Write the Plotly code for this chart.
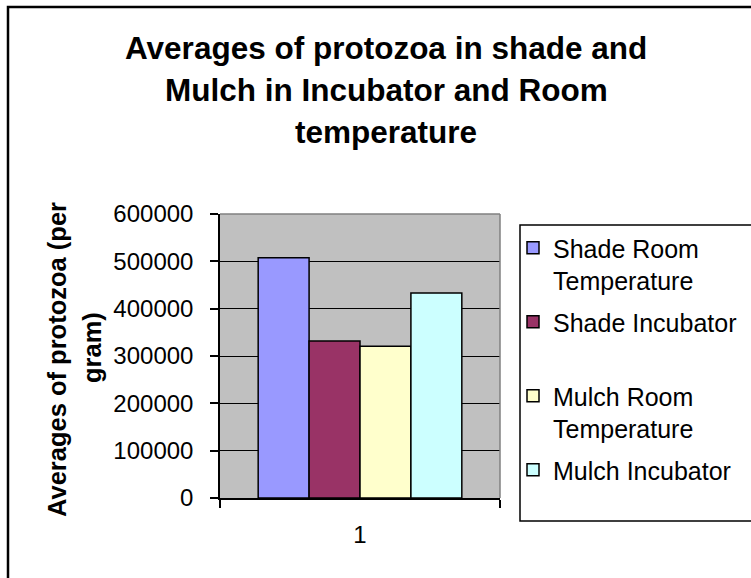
import plotly.graph_objects as go

# ---- data ----
categories = ["1"]
series_names = ["Shade Room Temperature", "Shade Incubator",
                "Mulch Room Temperature", "Mulch Incubator"]
legend_labels = ["Shade Room<br>Temperature", "Shade Incubator<br>&nbsp;",
                 "Mulch Room<br>Temperature", "Mulch Incubator<br>&nbsp;"]
shade_room = [507600]
shade_incubator = [331900]
mulch_room = [320800]
mulch_incubator = [432900]
series_values = [shade_room, shade_incubator, mulch_room, mulch_incubator]
colors = ["#9999FF", "#993366", "#FFFFCC", "#CCFFFF"]
y_ticks = [0, 100000, 200000, 300000, 400000, 500000, 600000]
y_tick_labels = [str(v) for v in y_ticks]
title_lines = ["Averages of protozoa in shade and",
               "Mulch in Incubator and Room",
               "temperature"]
y_title_lines = ["Averages of protozoa (per", "gram)"]

# ---- layout geometry (pixels) ----
W, H = 751, 578
L, R, T, B = 220, 500, 214, 498
FONT = "Liberation Sans, Arial, sans-serif"


def px(x):
    return (x - L) / (R - L)


def py(y):
    return (B - y) / (B - T)


fig = go.Figure()
for i, (name, lab, vals, col) in enumerate(zip(series_names, legend_labels, series_values, colors)):
    fig.add_trace(go.Bar(
        x=categories, y=vals, name=lab, legendgroup="g%d" % i,
        marker=dict(color=col, line=dict(color="black", width=1.5)),
        hovertemplate=name + ": %{y}<extra></extra>",
    ))

annotations = []
for k, (line, yc) in enumerate(zip(title_lines, [48, 90, 132])):
    annotations.append(dict(
        text="<b>%s</b>" % line, xref="paper", yref="paper",
        x=px(386), y=py(yc), xanchor="center", yanchor="middle",
        showarrow=False, font=dict(family=FONT, size=31.5, color="black"),
    ))
for line, xc, yc in zip(y_title_lines, [57, 92], [360, 348]):
    annotations.append(dict(
        text="<b>%s</b>" % line, xref="paper", yref="paper",
        x=px(xc), y=py(yc), xanchor="center", yanchor="middle",
        textangle=-90, showarrow=False,
        font=dict(family=FONT, size=25.5, color="black"),
    ))

shapes = [
    # plot area top/right border (gray)
    dict(type="line", xref="paper", yref="paper", x0=0, x1=1, y0=1, y1=1,
         line=dict(color="#808080", width=1.5)),
    dict(type="line", xref="paper", yref="paper", x0=1, x1=1, y0=0, y1=1,
         line=dict(color="#808080", width=1.5)),
    # outer chart border
    dict(type="rect", xref="paper", yref="paper", x0=px(8), x1=px(790),
         y0=py(7), y1=py(620), line=dict(color="black", width=2.5),
         fillcolor="rgba(0,0,0,0)", layer="above"),
    # legend box
    dict(type="rect", xref="paper", yref="paper", x0=px(520), x1=px(790),
         y0=py(225), y1=py(521), line=dict(color="black", width=1.5),
         fillcolor="rgba(0,0,0,0)", layer="above"),
]

fig.update_layout(
    width=W, height=H, autosize=False,
    margin=dict(l=L, r=W - R, t=T, b=H - B, pad=0),
    paper_bgcolor="white", plot_bgcolor="#C0C0C0",
    font=dict(family=FONT, size=24, color="black"),
    barmode="group", bargap=0.2727, bargroupgap=0,
    showlegend=True,
    legend=dict(
        xref="container", yref="container",
        x=513 / W, y=1 - 225 / H, xanchor="left", yanchor="top",
        bgcolor="rgba(0,0,0,0)", borderwidth=0,
        font=dict(family=FONT, size=25, color="black"),
        valign="top", traceorder="grouped", tracegroupgap=6,
        itemwidth=30, maxheight=1,
    ),
    xaxis=dict(
        type="category", range=[-0.5, 0.5], tickson="boundaries",
        ticks="outside", ticklen=8, tickwidth=1.5, tickcolor="black",
        showline=True, linecolor="black", linewidth=1.5,
        showgrid=False, zeroline=False,
        tickfont=dict(family=FONT, size=24, color="black"),
        ticklabelstandoff=14,
    ),
    yaxis=dict(
        range=[0, 600000], tickmode="array", tickvals=y_ticks,
        ticktext=y_tick_labels,
        ticks="outside", ticklen=8, tickwidth=1.5, tickcolor="black",
        showline=True, linecolor="black", linewidth=1.5,
        showgrid=True, gridcolor="black", gridwidth=1.2, zeroline=False,
        tickfont=dict(family=FONT, size=24, color="black"),
        ticklabelstandoff=12,
    ),
    annotations=annotations,
    shapes=shapes,
)

fig.write_html("out.html", config={"displayModeBar": False},
               post_script="document.body.style.margin='0';document.body.style.overflow='hidden';")
